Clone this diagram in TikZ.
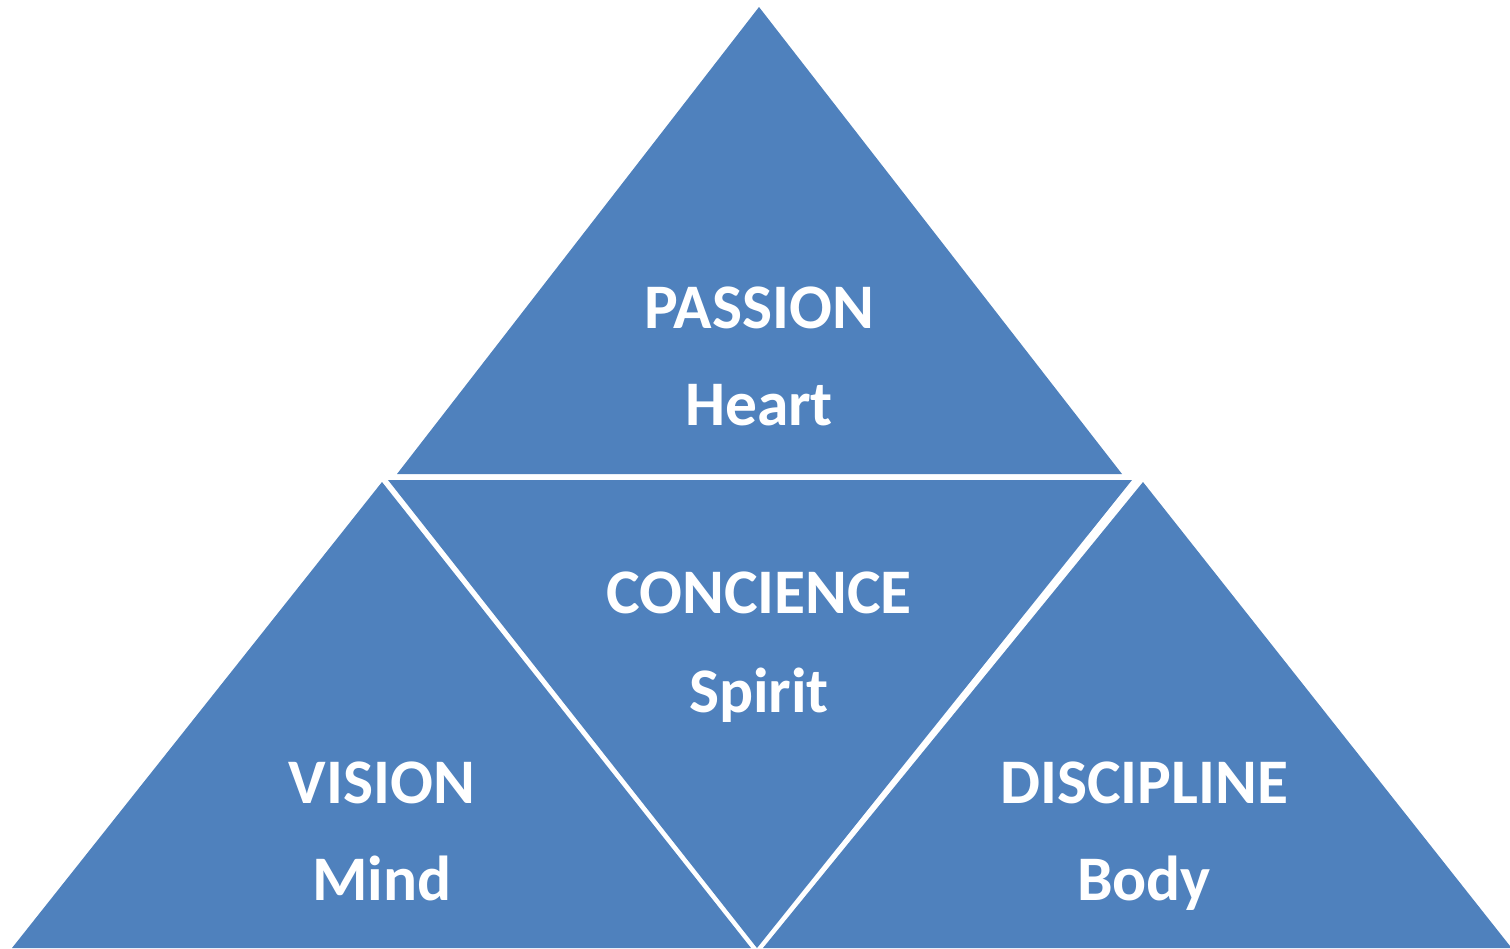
\documentclass[tikz,border=0pt]{standalone}
\usepackage{fontspec}
\setmainfont{Carlito}
\definecolor{pyrblue}{HTML}{4F81BD}
\begin{document}
\begin{tikzpicture}[x=1pt,y=-1pt,
  piece/.style={fill=pyrblue},
  label/.style={text=white,font=\fontsize{63.5}{63.5}\selectfont\bfseries,anchor=base,inner sep=0pt}]
\useasboundingbox (0,0) rectangle (1510,948);
% four triangular pieces of the pyramid
\fill[piece] (759,7) -- (1122,474) -- (397,474) -- cycle;
\fill[piece] (382,482) -- (751,948) -- (12,948) -- cycle;
\fill[piece] (388,480) -- (1132,480) -- (757,948) -- cycle;
\fill[piece] (1143,482) -- (1510,946) -- (1510,948) -- (763,948) -- cycle;
% labels
\node[label] (passion) at (759,328) {PASSION};
\node[label] (heart) at (759,425) {Heart};
\node[label] (concience) at (759,613) {CONCIENCE};
\node[label] (spirit) at (759,712) {Spirit};
\node[label] (vision) at (382,803) {VISION};
\node[label] (mind) at (382,900) {Mind};
\node[label] (discipline) at (1144,803) {DISCIPLINE};
\node[label] (body) at (1144,900) {Body};
\end{tikzpicture}
\end{document}
